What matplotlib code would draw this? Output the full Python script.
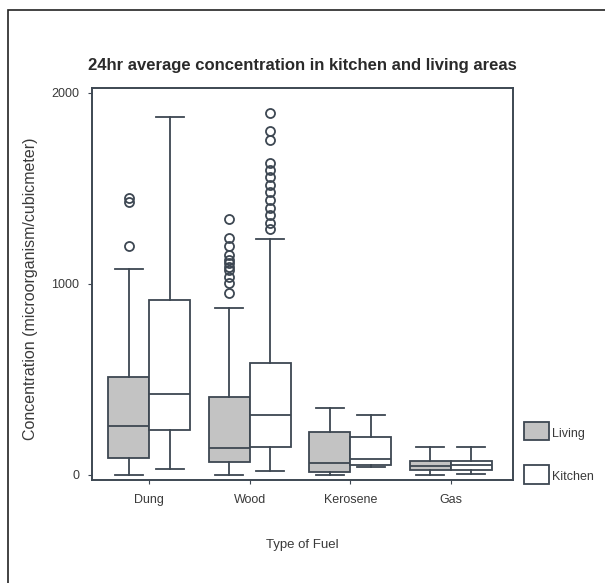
import matplotlib
matplotlib.use("Agg")
import matplotlib.pyplot as plt
from matplotlib.patches import Rectangle

plt.rcParams['font.family'] = ['Liberation Sans', 'DejaVu Sans']

fuels = ["Dung", "Wood", "Kerosene", "Gas"]

# box summaries per fuel (microorganism / cubic meter)
living_whislo = [0, 0, 0, 0]
living_q1 = [89, 68, 16, 26]
living_med = [257, 141, 63, 47]
living_q3 = [513, 408, 225, 73]
living_whishi = [1078, 874, 348, 147]
living_fliers = [[1200, 1430, 1450],
                 [955, 1005, 1037, 1073, 1090, 1110, 1125, 1150, 1200, 1240, 1340],
                 [], []]

kitchen_whislo = [31, 21, 40, 3]
kitchen_q1 = [236, 147, 52, 26]
kitchen_med = [424, 314, 84, 52]
kitchen_q3 = [916, 586, 200, 73]
kitchen_whishi = [1876, 1236, 314, 147]
kitchen_fliers = [[],
                  [1290, 1320, 1360, 1400, 1440, 1480, 1520, 1560, 1595, 1635, 1755, 1800, 1895],
                  [], []]

line_col = '#3d4752'
text_col = '#3a3a3a'


def make_stats(lo, q1, med, q3, hi, fl):
    return [dict(whislo=a, q1=b, med=c, q3=d, whishi=e, fliers=f)
            for a, b, c, d, e, f in zip(lo, q1, med, q3, hi, fl)]


fig = plt.figure(figsize=(6.05, 5.83), dpi=100)
ax = fig.add_axes([0.152, 0.177, 0.696, 0.672])

pos = list(range(1, len(fuels) + 1))
style = dict(widths=0.41, capwidths=0.28, patch_artist=True,
             boxprops=dict(edgecolor=line_col, linewidth=1.3),
             medianprops=dict(color=line_col, linewidth=1.3),
             whiskerprops=dict(color=line_col, linewidth=1.3),
             capprops=dict(color=line_col, linewidth=1.3),
             flierprops=dict(marker='o', markerfacecolor='none',
                             markeredgecolor=line_col, markersize=6.5,
                             markeredgewidth=1.3))

bl = ax.bxp(make_stats(living_whislo, living_q1, living_med, living_q3,
                       living_whishi, living_fliers),
            positions=[p - 0.205 for p in pos], **style)
bk = ax.bxp(make_stats(kitchen_whislo, kitchen_q1, kitchen_med, kitchen_q3,
                       kitchen_whishi, kitchen_fliers),
            positions=[p + 0.205 for p in pos], **style)
for b in bl['boxes']:
    b.set_facecolor('#c3c3c3')
for b in bk['boxes']:
    b.set_facecolor('white')

ax.set_xlim(0.43, 4.62)
ax.set_ylim(-26, 2026)
ax.set_xticks(pos)
ax.set_xticklabels(fuels, fontsize=9, color=text_col)
ax.set_yticks([0, 1000, 2000])
ax.set_yticklabels(['0', '1000', '2000'], fontsize=9, color=text_col)
ax.tick_params(axis='x', length=3, color=line_col, pad=7)
ax.tick_params(axis='y', length=3, color=line_col, pad=6)
for s in ax.spines.values():
    s.set_color(line_col)
    s.set_linewidth(1.4)

ax.set_title("24hr average concentration in kitchen and living areas",
             fontsize=12, fontweight='bold', color='#2a2a2a', pad=13)
ax.set_xlabel("Type of Fuel", fontsize=9.5, color=text_col, labelpad=24)
fig.text(0.050, 0.505, "Concentration (microorganism/cubicmeter)",
         rotation=90, ha='center', va='center', fontsize=11.5, color=text_col)

# legend keys to the right of the plot area
legend_items = [("Living", '#c3c3c3', 0.245), ("Kitchen", 'white', 0.170)]
for label, fc, yb in legend_items:
    fig.patches.append(Rectangle((0.866, yb), 0.042, 0.032, transform=fig.transFigure,
                                 facecolor=fc, edgecolor=line_col, linewidth=1.3))
    fig.text(0.913, yb + 0.001, label, fontsize=9, color=text_col, va='bottom')

# outer frame
fig.patches.append(Rectangle((8 / 605, -0.1), 1.2, 1 - 10 / 583 + 0.1,
                             transform=fig.transFigure, fill=False,
                             edgecolor='#222222', linewidth=1.2))

fig.savefig("out.png", dpi=100)
